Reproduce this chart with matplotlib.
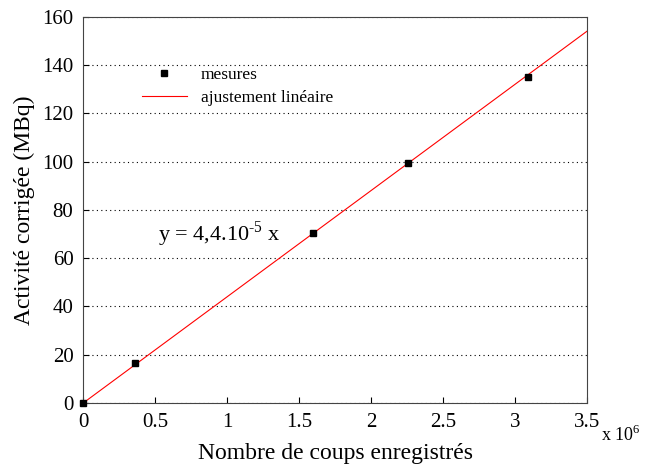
import numpy as np
import matplotlib.pyplot as plt

counts = [0.0, 0.36e6, 1.60e6, 2.26e6, 3.09e6]
activity = [0.0, 16.5, 70.5, 99.3, 135.0]
slope = 4.4e-5
fit_range = [0.0, 3.5e6]

plt.rcParams["font.family"] = ["Liberation Serif", "DejaVu Serif"]
plt.rcParams["mathtext.fontset"] = "custom"
plt.rcParams["mathtext.rm"] = "Liberation Serif"

fig = plt.figure(figsize=(6.55, 4.67), dpi=100)
ax = fig.add_axes([0.127, 0.137, 0.769, 0.827])

xf = np.array(fit_range)
ax.plot(xf / 1e6, slope * xf, color="red", lw=0.8, label="ajustement linéaire", zorder=2)
ax.plot(np.array(counts) / 1e6, activity, "s", color="black", ms=5, ls="none",
        label="mesures", zorder=3, clip_on=False)

ax.set_xlim(0, 3.5)
ax.set_ylim(0, 160)
ax.set_xticks(np.arange(0, 3.6, 0.5))
ax.set_xticklabels(["0", "0.5", "1", "1.5", "2", "2.5", "3", "3.5"])
ax.set_yticks(np.arange(0, 161, 20))
ax.tick_params(direction="in", labelsize=15, length=4, pad=7)
ax.yaxis.grid(True, linestyle=(0, (1, 3)), color="black", lw=0.8)
for s in ax.spines.values():
    s.set_color("#444444")

ax.set_xlabel("Nombre de coups enregistrés", fontsize=17, labelpad=8)
ax.set_ylabel("Activité corrigée (MBq)", fontsize=17, labelpad=5)

handles, labels = ax.get_legend_handles_labels()
ax.legend(handles[::-1], labels[::-1], loc="upper left", bbox_to_anchor=(0.085, 0.91),
          frameon=False, fontsize=12.5, handlelength=2.6, handletextpad=0.8,
          labelspacing=0.4)

ax.text(0.52, 70, r"y = 4,4.10$^{\text{-5}}$ x", fontsize=16, va="center")
fig.text(0.917, 0.055, r"x 10$^{6}$", fontsize=13)

fig.savefig("out.png", dpi=100)
